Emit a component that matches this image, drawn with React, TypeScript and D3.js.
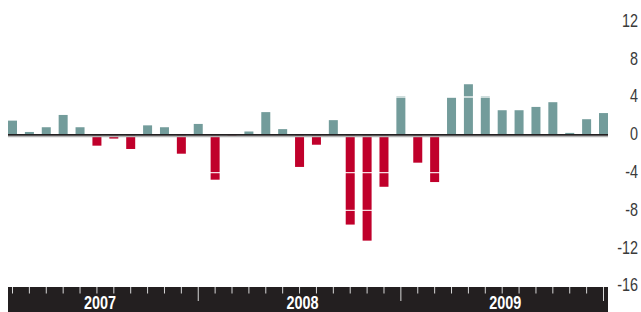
import React, {useEffect, useRef} from 'react'
import * as d3 from 'd3';

const years = ['2007', '2008', '2009'];
const monthsPerYear = ['Jan', 'Feb', 'Mar', 'Apr', 'May', 'Jun', 'Jul', 'Aug', 'Sep', 'Oct', 'Nov', 'Dec'];
const months = years.flatMap(y => monthsPerYear.map(m => `${m} ${y}`));
const values = [
    1.5, 0.3, 0.8, 2.1, 0.8, -1.15, -0.4, -1.5, 1.0, 0.8, -2.0, 1.15,
    -4.75, -0.2, 0.35, 2.4, 0.6, -3.4, -1.05, 1.55, -9.5, -11.2, -5.5, 4.1,
    -2.95, -5.0, 3.95, 5.35, 4.1, 2.6, 2.6, 2.95, 3.45, 0.2, 1.65, 2.3
];
const yTicks = [12, 8, 4, 0, -4, -8, -12, -16];

export default function App() {
    const svgRef = useRef<SVGSVGElement | null>(null);

    const width = 641;
    const height = 312;
    const font = '"Liberation Sans", Arial, sans-serif';
    const squeeze = 0.8; // condensed look

    useEffect(() => {
        const svg = d3.select(svgRef.current);
        svg.selectAll('*').remove();

        const data = months.map((m, i) => ({month: m, value: values[i]}));

        const x = d3.scalePoint<string>()
            .domain(months)
            .range([12.5, 603.5]);
        const barW = 9;
        const left = x(months[0])! - barW / 2;
        const right = x(months[months.length - 1])! + barW / 2;

        const y = d3.scaleLinear()
            .domain([-16, 12])
            .range([286, 21.4]);

        // bars
        svg.append('g')
            .selectAll('rect')
            .data(data)
            .join('rect')
            .attr('x', d => x(d.month)! - barW / 2)
            .attr('width', barW)
            .attr('y', d => d.value >= 0 ? y(d.value) : y(0) + 1)
            .attr('height', d => Math.abs(y(d.value) - y(0)) - (d.value >= 0 ? 0 : 1))
            .attr('fill', d => d.value >= 0 ? '#739c9b' : '#c0002b');

        // white gridlines over bars
        svg.append('g')
            .selectAll('line')
            .data(yTicks.filter(t => t !== 0))
            .join('line')
            .attr('x1', left)
            .attr('x2', right)
            .attr('y1', d => y(d))
            .attr('y2', d => y(d))
            .attr('stroke', '#fff')
            .attr('stroke-width', 1.4)
            .attr('stroke-opacity', 0.85);

        // zero line with light shadow
        svg.append('line')
            .attr('x1', left).attr('x2', right)
            .attr('y1', y(0) + 1.9).attr('y2', y(0) + 1.9)
            .attr('stroke', '#b5b5b5')
            .attr('stroke-width', 1.2);
        svg.append('line')
            .attr('x1', left).attr('x2', right)
            .attr('y1', y(0)).attr('y2', y(0))
            .attr('stroke', '#231f20')
            .attr('stroke-width', 1.7);

        // y labels on the right
        svg.append('g')
            .selectAll('text')
            .data(yTicks)
            .join('text')
            .attr('transform', d => `translate(638,${y(d) - 1}) scale(${squeeze},1)`)
            .attr('dy', '0.35em')
            .attr('text-anchor', 'end')
            .attr('font-family', font)
            .attr('font-size', 18)
            .attr('fill', '#3a3a3a')
            .text(d => d);

        // time band at the bottom
        const bandTop = 287;
        svg.append('rect')
            .attr('x', left)
            .attr('y', bandTop)
            .attr('width', right - left)
            .attr('height', height - bandTop)
            .attr('fill', '#231f20');

        svg.append('g')
            .selectAll('line')
            .data(months)
            .join('line')
            .attr('x1', d => x(d)!)
            .attr('x2', d => x(d)!)
            .attr('y1', bandTop)
            .attr('y2', d => d.startsWith('Dec') ? bandTop + 14 : bandTop + 6.5)
            .attr('stroke', '#d8d8d8')
            .attr('stroke-width', 1);

        svg.append('g')
            .selectAll('text')
            .data(years)
            .join('text')
            .attr('transform', d => {
                const prev = x(`Dec ${+d - 1}`) ?? x(`Jan ${d}`)! - x.step();
                const cx = (prev + x(`Dec ${d}`)!) / 2 + 3;
                return `translate(${cx},309) scale(${squeeze},1)`;
            })
            .attr('text-anchor', 'middle')
            .attr('font-family', font)
            .attr('font-weight', 'bold')
            .attr('font-size', 18)
            .attr('fill', '#fff')
            .text(d => d);
    });

    return (
        <svg
            ref={svgRef}
            width={width}
            height={height}
            style={{position: 'absolute', left: 0, top: 0, background: '#fff'}}
        >
        </svg>
    );
}
